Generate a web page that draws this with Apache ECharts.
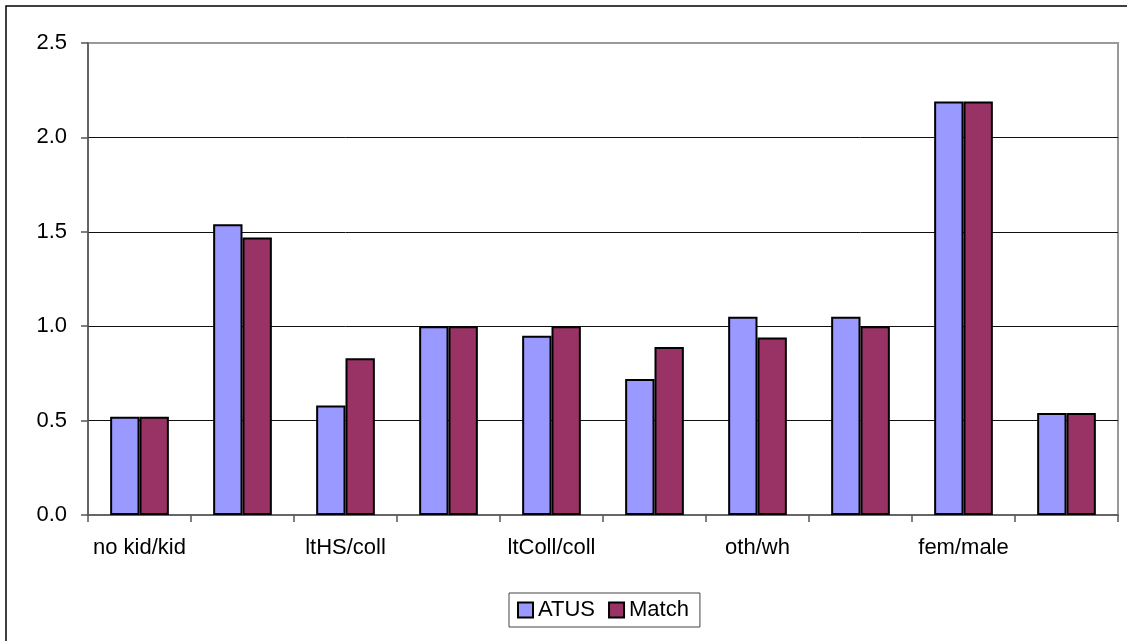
<!DOCTYPE html>
<html>
<head>
<meta charset="utf-8">
<script src="https://cdn.jsdelivr.net/npm/echarts@6/dist/echarts.min.js"></script>
<style>
html,body{margin:0;padding:0;background:#fff;}
#chart{width:1127px;height:641px;}
</style>
</head>
<body>
<div id="chart"></div>
<script>
var categories = ['no kid/kid', '', 'ltHS/coll', '', 'ltColl/coll', '', 'oth/wh', '', 'fem/male', ''];
var atus = [0.52, 1.54, 0.58, 1.00, 0.95, 0.72, 1.05, 1.05, 2.19, 0.54];
var match = [0.52, 1.47, 0.83, 1.00, 1.00, 0.89, 0.94, 1.00, 2.19, 0.54];
var seriesNames = ['ATUS', 'Match'];
var yTicks = { min: 0, max: 2.5, interval: 0.5 };

var FONT = '"Liberation Sans", Arial, sans-serif';
var chart = echarts.init(document.getElementById('chart'), null, { renderer: 'canvas' });
chart.setOption({
  animation: false,
  backgroundColor: '#fff',
  textStyle: { fontFamily: FONT, color: '#000' },
  graphic: [{
    type: 'rect',
    shape: { x: 6, y: 6, width: 1300, height: 800 },
    style: { fill: 'none', stroke: '#000', lineWidth: 1.5 },
    silent: true, z: 100
  }],
  grid: {
    left: 88, right: 9, top: 43, bottom: 126,
    show: true, borderColor: '#999', borderWidth: 2, backgroundColor: 'transparent'
  },
  legend: {
    left: 509, top: 593,
    data: seriesNames,
    itemWidth: 15, itemHeight: 15, itemGap: 13,
    icon: 'rect',
    padding: [6, 11, 6, 8],
    borderColor: '#444', borderWidth: 1,
    textStyle: { fontFamily: FONT, fontSize: 22, color: '#000' },
    itemStyle: { borderColor: '#000', borderWidth: 2 }
  },
  xAxis: {
    type: 'category',
    data: categories,
    axisLine: { show: true, lineStyle: { color: '#555', width: 1.5 } },
    axisTick: { show: true, length: 7, interval: 0, lineStyle: { color: '#555', width: 1.5 } },
    axisLabel: { interval: 0, margin: 22, fontFamily: FONT, fontSize: 22, color: '#000' },
    splitLine: { show: false }
  },
  yAxis: {
    type: 'value',
    min: yTicks.min, max: yTicks.max, interval: yTicks.interval,
    axisLine: { show: true, lineStyle: { color: '#555', width: 1.5 } },
    axisTick: { show: true, length: 7, lineStyle: { color: '#555', width: 1.5 } },
    axisLabel: { margin: 21, fontFamily: FONT, fontSize: 22, color: '#000',
      formatter: function (v) { return v.toFixed(1); } },
    splitLine: { show: true, showMaxLine: false, showMinLine: false, lineStyle: { color: '#111', width: 1 } }
  },
  series: [
    {
      name: seriesNames[0], type: 'bar', data: atus,
      barGap: '0%', barCategoryGap: '43%',
      itemStyle: { color: '#9999FF', borderColor: '#000', borderWidth: 2 }
    },
    {
      name: seriesNames[1], type: 'bar', data: match,
      barGap: '0%', barCategoryGap: '43%',
      itemStyle: { color: '#993366', borderColor: '#000', borderWidth: 2 }
    }
  ]
});
</script>
</body>
</html>
